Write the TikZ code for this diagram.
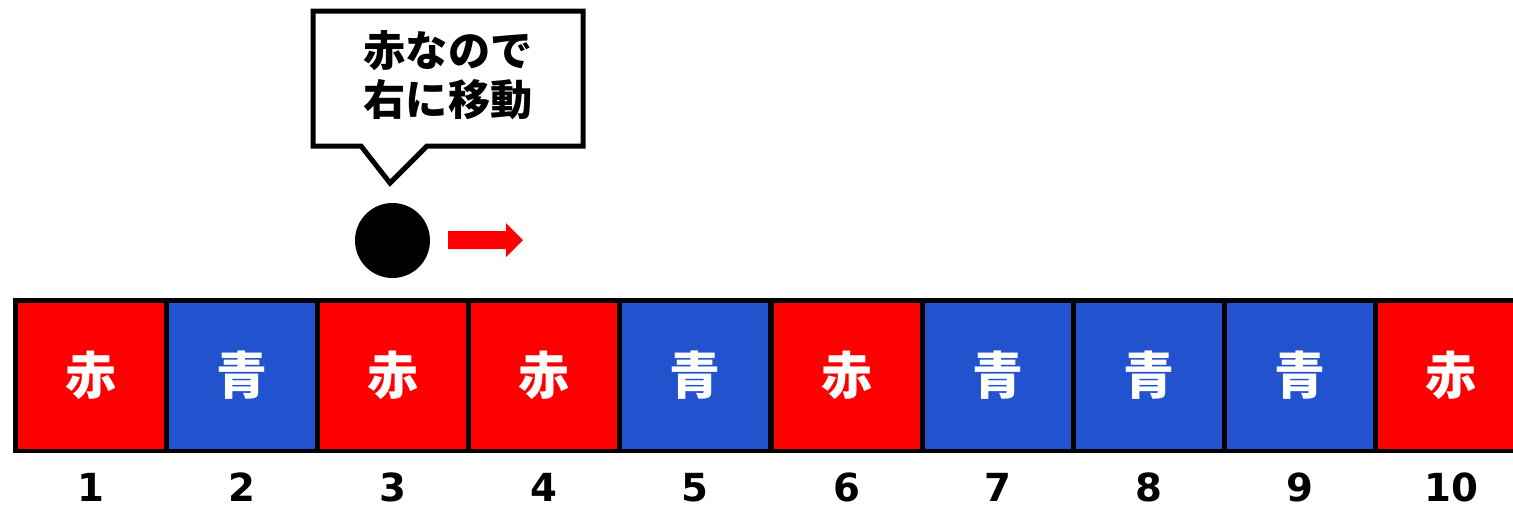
\documentclass[tikz,border=0pt]{standalone}
\usepackage{fontspec}
\newfontfamily\cjk{Noto Sans CJK JP}
\newfontfamily\numfont{DejaVu Sans}
\definecolor{cellred}{RGB}{255,0,0}
\definecolor{cellblue}{RGB}{34,82,206}
\begin{document}
\begin{tikzpicture}[x=0.02cm,y=-0.02cm,
  cellbox/.style={draw=black,line width=0.1cm,minimum width=3.024cm,minimum height=3.02cm,inner sep=0pt,text=white,font=\cjk\bfseries\fontsize{29}{34}\selectfont},
  redcell/.style={cellbox,fill=cellred},
  bluecell/.style={cellbox,fill=cellblue},
  numlabel/.style={font=\numfont\bfseries\fontsize{22}{26}\selectfont,inner sep=0pt,anchor=base},
  callout/.style={draw=black,fill=white,line width=0.1cm,miter limit=10}]
\useasboundingbox (0,0) rectangle (1513,505);
\def\cw{151.2}
\foreach \i/\c/\t in {1/redcell/赤,2/bluecell/青,3/redcell/赤,4/redcell/赤,5/bluecell/青,6/redcell/赤,7/bluecell/青,8/bluecell/青,9/bluecell/青,10/redcell/赤}{
  \node[\c] (c\i) at ({15+\cw/2+\cw*(\i-1)},375.5) {\t};
  \node[numlabel] (n\i) at ({15+\cw/2+\cw*(\i-1)},501) {\i};
}
% callout
\draw[callout] (313,11) -- (583,11) -- (583,146) -- (427,146) -- (390,183) -- (361,146) -- (313,146) -- cycle;
\node[font=\cjk\bfseries\fontsize{24}{28}\selectfont,align=center,inner sep=0pt] (msg) at (448,75) {赤なので\\右に移動};
% ball
\node[circle,fill=black,minimum size=1.5cm,inner sep=0pt] (ball) at (392.5,240.5) {};
% arrow
\fill[cellred] (448,231) -- (506,231) -- (506,223) -- (523,240) -- (506,257) -- (506,249) -- (448,249) -- cycle;
\end{tikzpicture}
\end{document}
